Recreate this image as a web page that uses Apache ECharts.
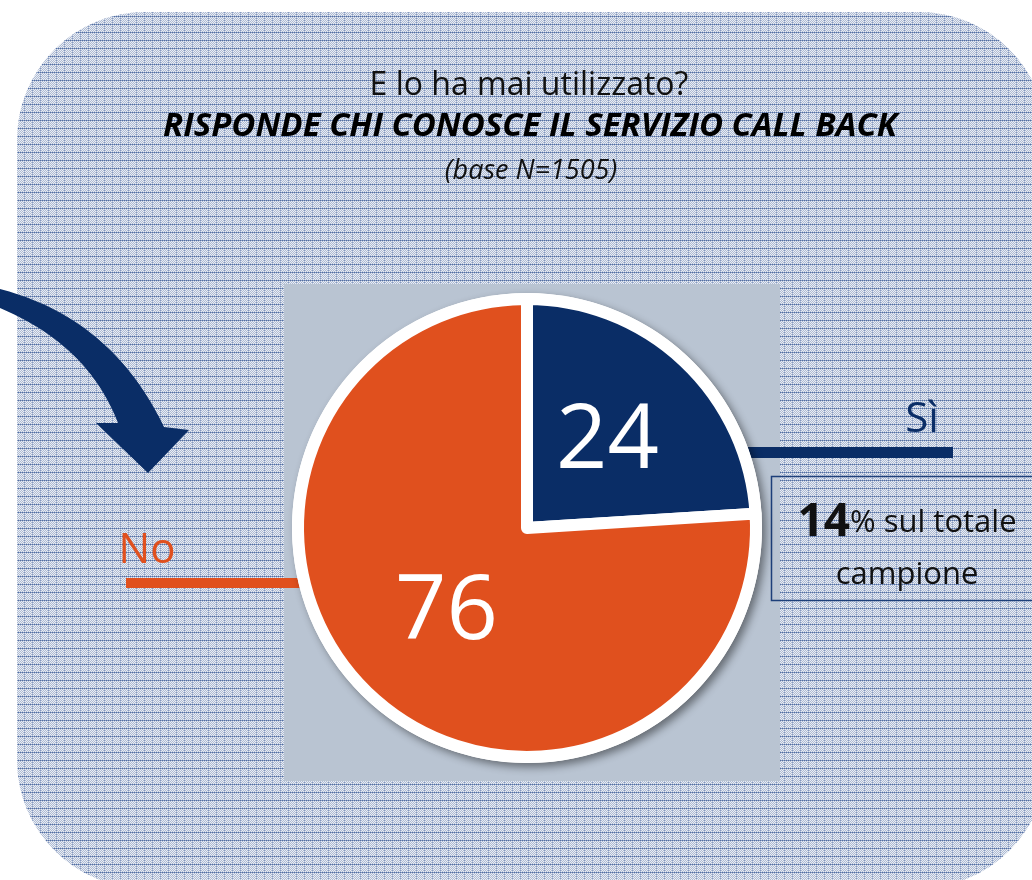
<!DOCTYPE html>
<html>
<head>
<meta charset="utf-8">
<script src="https://cdn.jsdelivr.net/npm/echarts@6/dist/echarts.min.js"></script>
<style>
  html, body { margin: 0; padding: 0; background: #ffffff; }
  #chart { width: 1032px; height: 880px; }
</style>
</head>
<body>
<div id="chart"></div>
<script>
// Survey answers (percent)
const categories = ['Sì', 'No'];
const values = [24, 76];
const sliceColors = ['#0a2d66', '#e0501e'];

// Header texts
const titleLines = [
  'E lo ha mai utilizzato?',
  'RISPONDE CHI CONOSCE IL SERVIZIO CALL BACK',
  '(base N=1505)'
];
const noteValue = '14';
const noteText = ['% sul totale', 'campione'];

// Plaid texture for the panel background
function makePlaid() {
  const c = document.createElement('canvas');
  c.width = 8; c.height = 8;
  const ctx = c.getContext('2d');
  for (let y = 0; y < 8; y++) {
    for (let x = 0; x < 8; x++) {
      let col;
      if (y === 0) col = (x % 2 === 0) ? '#526ea3' : '#8a9ec2';
      else if (x === 0) col = (y % 2 === 0) ? '#8599bf' : '#b6c2d9';
      else col = ((x + y) % 2 === 0) ? '#e9edf4' : '#aebbd3';
      ctx.fillStyle = col;
      ctx.fillRect(x, y, 1, 1);
    }
  }
  return c;
}

// Curved arrow outline sampled from two quadratic curves
function quad(p0, p1, p2, n) {
  const pts = [];
  for (let i = 0; i <= n; i++) {
    const t = i / n, u = 1 - t;
    pts.push([u * u * p0[0] + 2 * u * t * p1[0] + t * t * p2[0],
              u * u * p0[1] + 2 * u * t * p1[1] + t * t * p2[1]]);
  }
  return pts;
}
const arrowPts = []
  .concat(quad([0, 289], [112, 318], [164, 427], 24))
  .concat([[189, 430], [148, 473], [96, 423], [118, 423]])
  .concat(quad([118, 423], [88, 345], [0, 308], 24).slice(1));

const chart = echarts.init(document.getElementById('chart'), null, { renderer: 'canvas' });
const FONT = '"Open Sans", "Noto Sans", sans-serif';
const cx = 527, cy = 528;

chart.setOption({
  animation: false,
  backgroundColor: '#ffffff',
  graphic: [
    {
      type: 'rect', z: -10,
      shape: { x: 17, y: 12, width: 1030, height: 876, r: 128 },
      style: { fill: { image: makePlaid(), repeat: 'repeat' } }
    },
    {
      type: 'rect', z: -9,
      shape: { x: 284, y: 284, width: 496, height: 497 },
      style: { fill: '#b9c4d2' }
    },
    {
      type: 'polygon', z: -8,
      shape: { points: arrowPts },
      style: { fill: '#0a2d66' }
    },
    // connector lines
    {
      type: 'rect', z: -8,
      shape: { x: 126, y: 578, width: 180, height: 10 },
      style: { fill: '#e0501e' }
    },
    {
      type: 'rect', z: -8,
      shape: { x: 740, y: 447, width: 213, height: 11 },
      style: { fill: '#0a2d66' }
    },
    // white disc with soft shadow under the pie
    {
      type: 'circle', z: -7,
      shape: { cx: cx, cy: cy, r: 235 },
      style: {
        fill: '#ffffff',
        shadowBlur: 8, shadowOffsetX: 4, shadowOffsetY: 4,
        shadowColor: 'rgba(0,0,0,0.45)'
      }
    },
    // note box
    {
      type: 'rect', z: -8,
      shape: { x: 771.5, y: 476.5, width: 290, height: 124 },
      style: { fill: 'transparent', stroke: '#1d3f7a', lineWidth: 1.5 }
    },
    {
      type: 'text', z: 5,
      style: {
        x: 907, y: 549,
        text: '{b|' + noteValue + '}{n|' + noteText[0] + '}\n{n|' + noteText[1] + '}',
        align: 'center', verticalAlign: 'middle',
        rich: {
          b: { fontFamily: FONT, fontWeight: 'bold', fontSize: 46, fill: '#111111', lineHeight: 52 },
          n: { fontFamily: FONT, fontSize: 31, fill: '#111111', lineHeight: 52 }
        }
      }
    },
    // category labels
    {
      type: 'text', z: 5,
      style: { x: 147, y: 551, text: categories[1], align: 'center', verticalAlign: 'middle',
        fontFamily: FONT, fontSize: 42, fill: '#e0501e' }
    },
    {
      type: 'text', z: 5,
      style: { x: 922, y: 420, text: categories[0], align: 'center', verticalAlign: 'middle',
        fontFamily: FONT, fontSize: 42, fill: '#0a2d66' }
    },
    // header
    {
      type: 'text', z: 5,
      style: { x: 529, y: 86, text: titleLines[0], align: 'center', verticalAlign: 'middle',
        fontFamily: FONT, fontSize: 32, fill: '#111111' }
    },
    {
      type: 'text', z: 5,
      style: { x: 530, y: 127, text: titleLines[1], align: 'center', verticalAlign: 'middle',
        fontFamily: FONT, fontSize: 33, fontWeight: 'bold', fontStyle: 'italic', fill: '#000000' }
    },
    {
      type: 'text', z: 5,
      style: { x: 531, y: 171, text: titleLines[2], align: 'center', verticalAlign: 'middle',
        fontFamily: FONT, fontSize: 27, fontStyle: 'italic', fill: '#111111' }
    }
  ],
  series: [{
    type: 'pie',
    z: 2,
    center: [cx, cy],
    radius: [0, 229],
    startAngle: 90,
    clockwise: true,
    silent: true,
    itemStyle: { borderColor: '#ffffff', borderWidth: 12 },
    label: {
      show: true,
      position: 'inside',
      formatter: '{c}',
      color: '#ffffff',
      fontFamily: FONT,
      fontSize: 90
    },
    labelLine: { show: false },
    data: categories.map((name, i) => ({
      name: name,
      value: values[i],
      itemStyle: { color: sliceColors[i] }
    }))
  }]
});
</script>
</body>
</html>
